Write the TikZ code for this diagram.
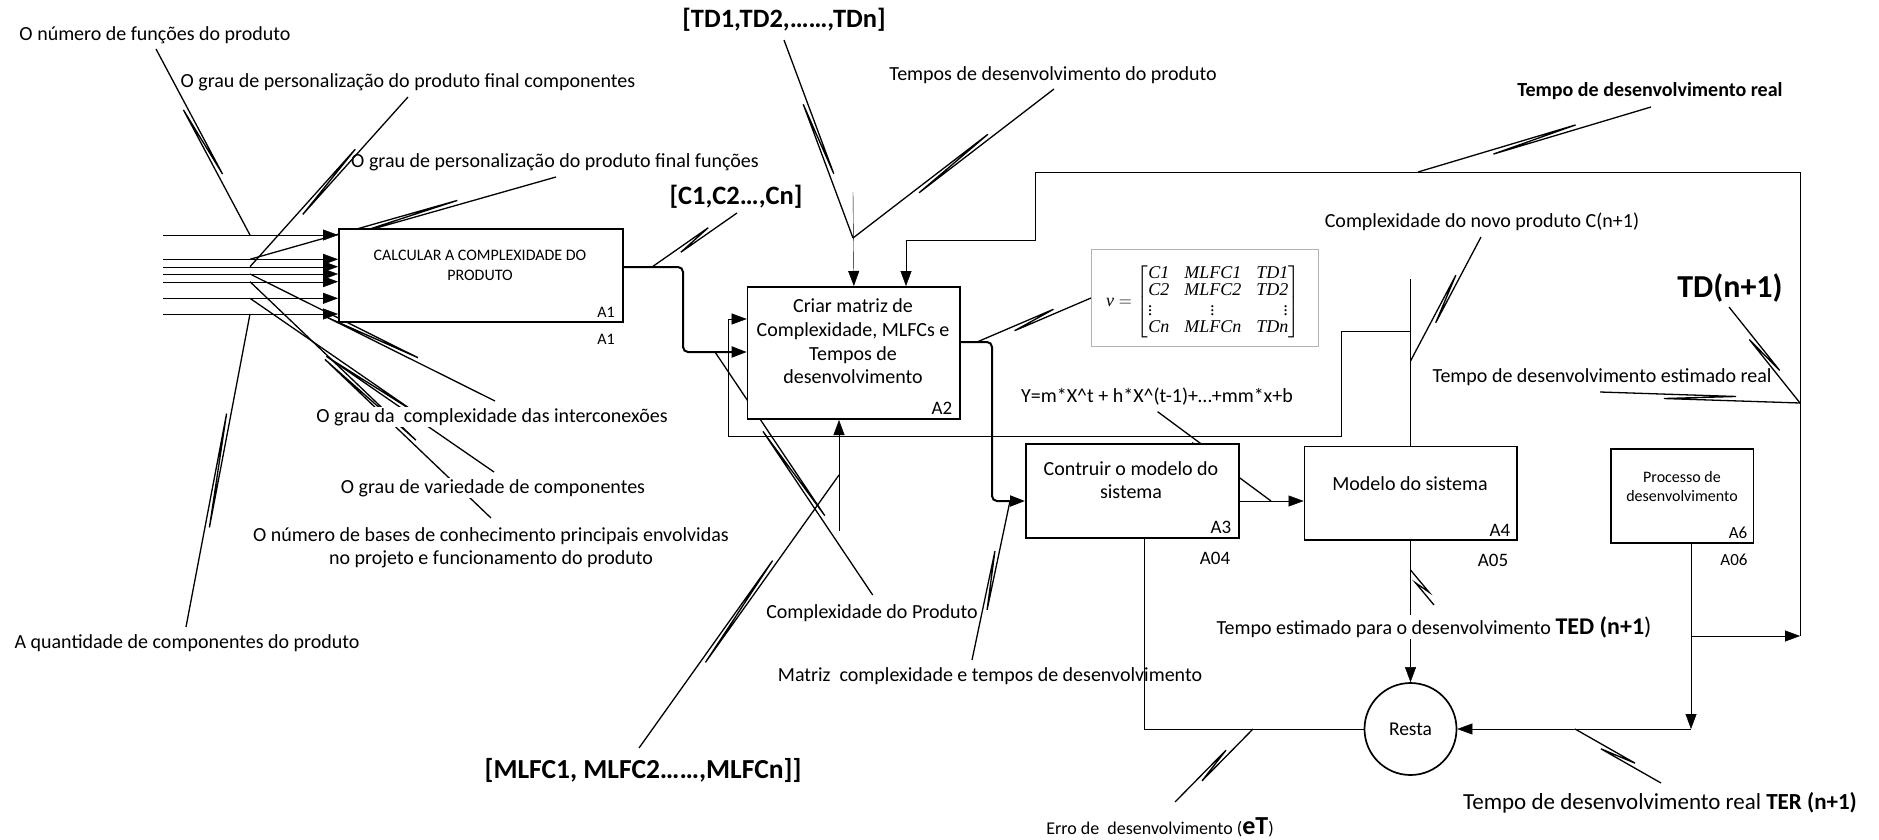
\RequirePackage{fix-cm}
\documentclass[tikz,border=0pt]{standalone}
\usepackage{amsmath}
\usepackage{array}
\usepackage{fontspec}
\setmainfont{Carlito}
\newfontfamily\matfont{Liberation Serif}
\usetikzlibrary{arrows.meta,calc}
\pgfdeclarelayer{wires}
\pgfsetlayers{wires,main}

\begin{document}
\begin{tikzpicture}[x=1pt,y=-1pt,line width=1.9pt,
  every node/.style={inner sep=1pt},
  lbl/.style={fill=white,font=\fontsize{20}{24}\selectfont},
  lblc/.style={font=\fontsize{20}{24}\selectfont},
  big/.style={font=\fontsize{26.5}{30}\selectfont\bfseries},
  proc/.style={draw,fill=white,line width=1.7pt,inner sep=0pt},
  ptext/.style={align=center,font=\fontsize{20}{23.7}\selectfont},
  tag/.style={font=\fontsize{19}{22}\selectfont},
  flow/.style={draw=black,-{Triangle[length=15pt,width=11pt]}},
  elbowflow/.style={flow,line width=2pt,rounded corners=5pt},
  squig/.style={line width=1.3pt,to path={
    -- ($(\tikztostart)!0.68!(\tikztotarget)!3pt!90:(\tikztotarget)$)
    -- ($(\tikztostart)!0.32!(\tikztotarget)!3pt!-90:(\tikztotarget)$)
    -- (\tikztotarget)}}]
\useasboundingbox (0,0) rectangle (1879,840);

% ---------- activity boxes ----------
\node[proc,minimum width=284,minimum height=93,anchor=north west] (A1) at (338,228) {};
\node[ptext,font=\fontsize{16}{20}\selectfont] (A1t) at (480,265) {CALCULAR A COMPLEXIDADE DO\\PRODUTO};
\node[font=\fontsize{16}{20}\selectfont] (A1n) at (606,312) {A1};
\node[font=\fontsize{16}{20}\selectfont] (A1o) at (606,339) {A1};

\node[proc,minimum width=212.6,minimum height=132.3,anchor=north west] (A2) at (746.7,286) {};
\node[ptext] (A2t) at (853,341.5) {Criar matriz de\\Complexidade, MLFCs e\\Tempos de\\desenvolvimento};
\node[tag] (A2n) at (942,408) {A2};

\node[proc,minimum width=213,minimum height=94,anchor=north west] (A3) at (1025,443) {};
\node[ptext] (A3t) at (1131,480) {Contruir o modelo do\\sistema};
\node[tag] (A3n) at (1221,527) {A3};
\node[tag] (A3o) at (1215,558) {A04};

\node[proc,minimum width=212.4,minimum height=93.3,anchor=north west] (A4) at (1303.6,445.7) {};
\node[ptext] (A4t) at (1410,484) {Modelo do sistema};
\node[tag] (A4n) at (1500,530) {A4};
\node[tag] (A4o) at (1493,560) {A05};

\node[proc,minimum width=142.7,minimum height=94,anchor=north west] (A6) at (1610,448) {};
\node[ptext,font=\fontsize{16}{19}\selectfont] (A6t) at (1682,486.5) {Processo de\\desenvolvimento};
\node[font=\fontsize{17}{20}\selectfont] (A6n) at (1738,533) {A6};
\node[font=\fontsize{17}{20}\selectfont] (A6o) at (1734,560) {A06};

\node[proc,circle,minimum size=92] (resta) at (1410.5,729) {};
\node[font=\fontsize{19.5}{22}\selectfont] (restat) at (resta.center) {Resta};

% matrix panel
\node[draw=gray!60,fill=white,line width=1.2pt,minimum width=227,minimum height=97,anchor=north west] (mat) at (1091,249) {};
\node (matt) at (1203,302) {\fontsize{18}{18}\selectfont\renewcommand{\arraystretch}{0.92}%
  $\text{\matfont\itshape v} = \left[\begin{tabular}{@{}>{\matfont\itshape}l@{\hspace{15pt}}>{\matfont\itshape}c@{\hspace{15pt}}>{\matfont\itshape}r@{}}
  C1 & MLFC1 & TD1\\ C2 & MLFC2 & TD2\\ \vdots & \vdots & \vdots\\ Cn & MLFCn & TDn
  \end{tabular}\right]$};

% ---------- labels ----------
\node[lbl] (numfun) at (155,35) {O número de funções do produto};
\node[lbl] (perscomp) at (408,82) {O grau de personalização do produto final componentes};
\node[lblc] (persfun) at (555,162) {O grau de personalização do produto final funções};
\node[lbl] (inter) at (492,417) {O grau da\ \ complexidade das interconexões};
\node[lbl] (varied) at (493,488) {O grau de variedade de componentes};
\node[lbl,align=center,font=\fontsize{20}{23}\selectfont] (bases) at (491,547.5)
  {O número de bases de conhecimento principais envolvidas\\no projeto e funcionamento do produto};
\node[lbl] (quant) at (187,643) {A quantidade de componentes do produto};
\node[big] (tdlist) at (784,20) {[TD1,TD2,……,TDn]};
\node[lbl] (tempos) at (1053,75) {Tempos de desenvolvimento do produto};
\node[big] (clist) at (736,197) {[C1,C2…,Cn]};
\node[lbl,font=\fontsize{20}{24}\selectfont\bfseries] (realtop) at (1650,91) {Tempo de desenvolvimento real};
\node[lbl] (cnovo) at (1482,222) {Complexidade do novo produto C(n+1)};
\node[font=\fontsize{32}{36}\selectfont\bfseries] (tdn1) at (1730,288) {TD(n+1)};
\node[lblc] (estreal) at (1602,377) {Tempo de desenvolvimento estimado real};
\node[lblc] (yeq) at (1157,397) {Y=m*X\textasciicircum t + h*X\textasciicircum(t-1)+…+mm*x+b};
\node[lbl] (cprod) at (872,613) {Complexidade do Produto};
\node[lblc] (matriz) at (990,676) {Matriz\ \ complexidade e tempos de desenvolvimento};
\node[big,font=\fontsize{27.5}{31}\selectfont\bfseries] (mlfc) at (643,770) {[MLFC1, MLFC2……,MLFCn]]};
\node[lbl] (ted) at (1434,627) {Tempo estimado para o desenvolvimento
  {\fontsize{24}{28}\selectfont\bfseries TED (n+1}{\fontsize{24}{28}\selectfont)}};
\node[lbl,font=\fontsize{23}{27}\selectfont] (ter) at (1660,803) {Tempo de desenvolvimento real \textbf{TER (n+1)}};
\node[lbl,font=\fontsize{18}{22}\selectfont] (erro) at (1160,827)
  {Erro de\ \ desenvolvimento ({\fontsize{26}{30}\selectfont\bfseries eT})};

% ---------- connection points ----------
\foreach \n/\y in {1/235,2/259.3,3/266.7,4/274,5/281.7,6/298.3,7/314}{
  \coordinate (in\n) at (163,\y);
  \coordinate (j\n) at (250,\y);
}
\coordinate (p-numfun) at (156,49);
\coordinate (p-perscomp) at (408,97);
\coordinate (p-persfun) at (556,177);
\coordinate (p-inter) at (495,401);
\coordinate (p-bases) at (491,518);
\coordinate (p-varied) at (494,472);
\coordinate (p-quant) at (186,627);
\coordinate (p-clist) at (737,213);
\coordinate (p-tdlist) at (784,40);
\coordinate (p-tempos) at (1054,89);
\coordinate (p-realtop) at (1651,107);
\coordinate (p-cnovo) at (1481,237);
\coordinate (p-tdn1) at (1729,307);
\coordinate (p-estreal) at (1600,392);
\coordinate (p-yeq) at (1157.6,411.7);
\coordinate (p-mat) at (1091,298);
\coordinate (p-cprod) at (872.7,595);
\coordinate (p-mlfc) at (639,748);
\coordinate (p-matriz) at (972,660);
\coordinate (p-ted) at (1434,605);
\coordinate (p-erro) at (1175,802);
\coordinate (p-ter) at (1661,783);

\coordinate (c1) at (652,267);
\coordinate (c2) at (853,238);
\coordinate (c3) at (1418,172);
\coordinate (c4) at (1410.5,361);
\coordinate (c5) at (1800,403);
\coordinate (c6) at (1271,501);
\coordinate (c7) at (977,342);
\coordinate (c8) at (715,352);
\coordinate (c9) at (839,475);
\coordinate (c10) at (1010,501);
\coordinate (c11) at (1410.5,570);
\coordinate (c12) at (1253,729);
\coordinate (c13) at (1575,729);

\coordinate (tdtop) at (853,192);
\coordinate (cntop) at (1410.5,279);
\coordinate (loopR) at (1800,636);
\coordinate (mlfcbot) at (839,531);
\coordinate (a6knee) at (1691,729);

\begin{pgfonlayer}{wires}
% inputs of A1
\foreach \n in {1,...,7}{\draw[flow] (in\n) -- (A1.west |- in\n);}
% A1 -> A2
\draw[elbowflow] (A1.east |- c1) -- (683,267) -- (683,352) -- (A2.west |- c8);
% feedback into A2 from C(n+1)
\draw[flow] (1410.5,331) -- (1341.6,331) -- (1341.6,436) -- (728,436) -- (728,319) -- (A2.west |- 0,319);
\draw[draw=black] (cntop) -- (cntop |- A4.north);
% top loop from the real time
\draw[flow] (loopR) -- (1800,172) -- (1035,172) -- (1035,240) -- (906,240) -- (A2.north -| 906,0);
\draw[flow] (tdtop) -- (A2.north);
\draw[flow] (mlfcbot) -- (A2.south -| mlfcbot);
% A2 -> A3 -> A4
\draw[elbowflow] (A2.east |- c7) -- (992,342) -- (992,501) -- (A3.west |- c6);
\draw[flow] (A3.east |- c6) -- (A4.west |- c6);
% towards the subtraction
\draw[flow] (A4.south -| cntop) -- (resta.north);
\draw (A3.south -| 1144,0) -- (1144,729) -- (resta.west);
\draw[flow] (A6.south -| a6knee) -- (a6knee);
\draw[flow] (a6knee) -- (resta.east);
\draw[flow] (A6.south -| a6knee) |- (loopR);

% label leaders
\draw[squig] (p-numfun) to (j1);
\draw[squig] (p-perscomp) to (j3);
\draw[squig] (p-persfun) to (j2);
\draw[squig] (p-inter) to (j4);
\draw[squig] (p-bases) to (j5);
\draw[squig] (p-varied) to (j6);
\draw[squig] (p-quant) to (j7);
\draw[squig] (p-clist) to (c1);
\draw[squig] (p-tdlist) to (c2);
\draw[squig] (p-tempos) to (c2);
\draw[squig] (p-realtop) to (c3);
\draw[squig] (p-cnovo) to (c4);
\draw[squig] (p-tdn1) to (c5);
\draw[squig] (p-estreal) to (c5);
\draw[squig] (p-yeq) to (c6);
\draw[squig] (c7) to (p-mat);
\draw[squig] (p-cprod) to (c8);
\draw[squig] (p-mlfc) to (c9);
\draw[squig] (p-matriz) to (c10);
\draw[squig] (p-ted) to (c11);
\draw[squig] (p-erro) to (c12);
\draw[squig] (p-ter) to (c13);
\end{pgfonlayer}
\end{tikzpicture}
\end{document}
